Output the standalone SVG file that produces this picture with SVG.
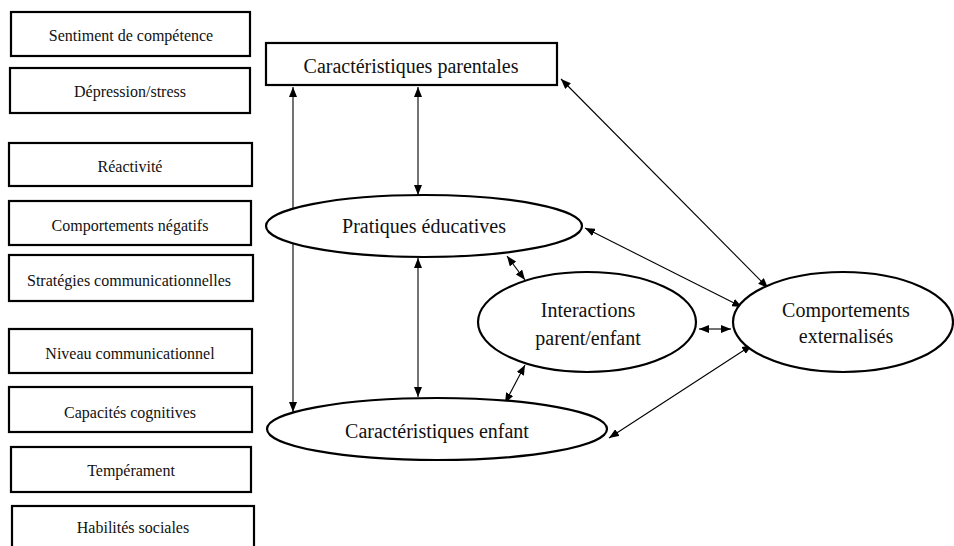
<svg xmlns="http://www.w3.org/2000/svg" width="954" height="546" viewBox="0 0 954 546">
<style>
.box{fill:#fff;stroke:#000;stroke-width:2.2}
.el{fill:#fff;stroke:#000;stroke-width:2.2}
.t{font-size:16px;fill:#111;text-anchor:middle}
.m{font-size:20px;fill:#111;text-anchor:middle}
.c{fill:none;stroke:#000;stroke-width:1.1}
</style>
<defs>
<marker id="ah" viewBox="0 0 10 8" refX="10" refY="4" markerWidth="10" markerHeight="8" markerUnits="userSpaceOnUse" orient="auto-start-reverse">
<path d="M0,0 L10,4 L0,8 Z" fill="#000"/>
</marker>
</defs>
<rect width="954" height="546" fill="#fff"/>
<g font-family="'Liberation Serif', 'DejaVu Serif', serif">
<g id="left-boxes">
<g id="n-sentiment"><rect class="box" x="11" y="12" width="239" height="44"/><text class="t" x="131" y="41">Sentiment de compétence</text></g>
<g id="n-depression"><rect class="box" x="10" y="68" width="240" height="45"/><text class="t" x="130" y="97">Dépression/stress</text></g>
<g id="n-reactivite"><rect class="box" x="9" y="143" width="243" height="43"/><text class="t" x="130" y="172">Réactivité</text></g>
<g id="n-comportements-negatifs"><rect class="box" x="9" y="201" width="242" height="44"/><text class="t" x="130" y="231">Comportements négatifs</text></g>
<g id="n-strategies"><rect class="box" x="9" y="255" width="244" height="46"/><text class="t" x="129" y="286">Stratégies communicationnelles</text></g>
<g id="n-niveau"><rect class="box" x="9" y="329" width="243" height="44"/><text class="t" x="130" y="359">Niveau communicationnel</text></g>
<g id="n-capacites"><rect class="box" x="9" y="387" width="243" height="45"/><text class="t" x="130" y="418">Capacités cognitives</text></g>
<g id="n-temperament"><rect class="box" x="11" y="447" width="240" height="45"/><text class="t" x="131" y="476">Tempérament</text></g>
<g id="n-habiletes"><rect class="box" x="12" y="506" width="242" height="46"/><text class="t" x="133" y="533">Habilités sociales</text></g>
</g>
<g id="connectors">
<line class="c" x1="293" y1="87" x2="293" y2="412" marker-start="url(#ah)" marker-end="url(#ah)"/>
<line class="c" x1="418" y1="87" x2="418" y2="195" marker-start="url(#ah)" marker-end="url(#ah)"/>
<line class="c" x1="418" y1="258" x2="418" y2="397" marker-start="url(#ah)" marker-end="url(#ah)"/>
<line class="c" x1="507" y1="256" x2="525" y2="280" marker-start="url(#ah)" marker-end="url(#ah)"/>
<line class="c" x1="525" y1="365" x2="505" y2="403" marker-start="url(#ah)" marker-end="url(#ah)"/>
<line class="c" x1="699" y1="329" x2="731" y2="329" marker-start="url(#ah)" marker-end="url(#ah)"/>
<line class="c" x1="561" y1="79" x2="768" y2="288" marker-start="url(#ah)" marker-end="url(#ah)"/>
<line class="c" x1="585" y1="228" x2="742" y2="307" marker-start="url(#ah)" marker-end="url(#ah)"/>
<line class="c" x1="609" y1="438" x2="752" y2="345" marker-start="url(#ah)" marker-end="url(#ah)"/>
</g>
<g id="n-parentales"><rect class="box" x="266" y="43" width="291" height="42" stroke-width="2.6"/><text class="m" x="411" y="73">Caractéristiques parentales</text></g>
<g id="n-pratiques"><ellipse class="el" cx="424" cy="226" rx="158" ry="31"/><text class="m" x="424" y="233">Pratiques éducatives</text></g>
<g id="n-interactions"><ellipse class="el" cx="587" cy="322" rx="109" ry="50"/><text class="m" x="588" y="317">Interactions</text><text class="m" x="588" y="345">parent/enfant</text></g>
<g id="n-enfant"><ellipse class="el" cx="437" cy="429" rx="170" ry="31"/><text class="m" x="437" y="438">Caractéristiques enfant</text></g>
<g id="n-externalises"><ellipse class="el" cx="843" cy="322" rx="110" ry="50"/><text class="m" x="846" y="317">Comportements</text><text class="m" x="846" y="343">externalisés</text></g>
</g>
</svg>
